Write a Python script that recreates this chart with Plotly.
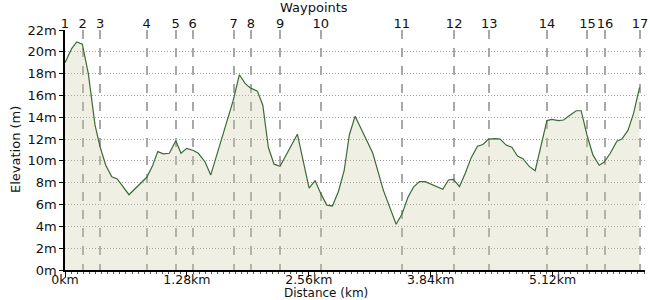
import plotly.graph_objects as go

# Elevation profile (distance km, elevation m)
distance_km = [0.000, 0.070, 0.123, 0.182, 0.245, 0.315, 0.368, 0.428, 0.491, 0.549,
               0.672, 0.788, 0.858, 0.917, 0.974, 1.033, 1.096, 1.163, 1.218, 1.278,
               1.348, 1.400, 1.471, 1.530, 1.768, 1.831, 1.891, 1.943, 2.020, 2.077,
               2.135, 2.195, 2.258, 2.440, 2.563, 2.626, 2.686, 2.749, 2.808, 2.871,
               2.931, 2.986, 3.046, 3.151, 3.232, 3.343, 3.414, 3.477, 3.537, 3.600,
               3.659, 3.722, 3.782, 3.887, 3.967, 4.026, 4.079, 4.142, 4.202, 4.265,
               4.331, 4.388, 4.447, 4.517, 4.569, 4.632, 4.692, 4.751, 4.808, 4.874,
               4.937, 5.060, 5.112, 5.182, 5.234, 5.305, 5.368, 5.420, 5.480, 5.543,
               5.609, 5.662, 5.725, 5.795, 5.847, 5.911, 5.970, 6.033]
elevation_m = [19.0, 20.3, 20.9, 20.7, 18.0, 13.3, 11.3, 9.6, 8.55, 8.35,
               6.9, 7.95, 8.5, 9.5, 10.85, 10.65, 10.7, 11.85, 10.7, 11.15,
               10.95, 10.7, 9.9, 8.7, 15.6, 17.9, 17.1, 16.7, 16.4, 15.1,
               11.25, 9.7, 9.5, 12.45, 7.5, 8.2, 7.0, 5.95, 5.87, 7.2,
               9.1, 12.4, 14.1, 12.2, 10.7, 7.3, 5.65, 4.2, 5.1, 6.65,
               7.6, 8.1, 8.1, 7.7, 7.4, 8.25, 8.3, 7.65, 8.85, 10.3,
               11.35, 11.5, 12.0, 12.05, 12.0, 11.45, 11.25, 10.45, 10.2, 9.5,
               9.1, 13.7, 13.8, 13.7, 13.75, 14.2, 14.6, 14.6, 12.4, 10.55,
               9.6, 9.9, 10.7, 11.8, 12.0, 12.8, 14.35, 16.75]

# Waypoints
waypoint_km = [0.000, 0.186, 0.368, 0.856, 1.163, 1.341, 1.772, 1.951, 2.258,
               2.686, 3.537, 4.086, 4.454, 5.060, 5.486, 5.669, 6.037]
waypoint_labels = [str(i) for i in range(1, 18)]

x_ticks = [0, 1.28, 2.56, 3.84, 5.12]
x_tick_labels = ["0km", "1.28km", "2.56km", "3.84km", "5.12km"]

X_MAX = 6.09
FONT = "DejaVu Sans"

fig = go.Figure()
fig.add_trace(go.Scatter(
    x=distance_km, y=elevation_m, mode="lines",
    line=dict(color="#3b6b35", width=1.2),
    fill="tozeroy", fillcolor="rgba(205,202,165,0.3)",
    hoverinfo="skip", showlegend=False,
))
# invisible trace to activate top axis
fig.add_trace(go.Scatter(x=waypoint_km, y=[None] * len(waypoint_km), xaxis="x2",
                         showlegend=False, hoverinfo="skip"))

fig.update_layout(
    width=650, height=300,
    margin=dict(l=65, r=5, t=30, b=30, autoexpand=False),
    paper_bgcolor="white", plot_bgcolor="white",
    font=dict(family=FONT, size=13, color="#111"),
    xaxis=dict(
        range=[0, X_MAX], tickvals=x_ticks, ticktext=x_tick_labels,
        automargin=False, tickangle=0, ticklabelstandoff=-8,
        showgrid=False, zeroline=False,
        showline=True, linecolor="black", linewidth=1.5,
        ticks="outside", ticklen=5, tickcolor="black",
        minor=dict(ticks="outside", ticklen=2, tickcolor="#555", dtick=0.064, tick0=0, showgrid=False),
        tickfont=dict(size=12.5),
    ),
    xaxis2=dict(
        overlaying="x", side="top", range=[0, X_MAX],
        automargin=False, tickangle=0, ticklabelstandoff=-2,
        tickvals=waypoint_km, ticktext=waypoint_labels,
        showgrid=True, griddash="dash", gridcolor="#a8a8a8", gridwidth=1.5,
        zeroline=False, showline=False, ticks="",
        tickfont=dict(size=13),
    ),
    yaxis=dict(
        range=[0, 22], dtick=2, tick0=0, ticksuffix="m",
        automargin=False,
        showgrid=True, griddash="1px,2px", gridcolor="#a0a0a0", gridwidth=1,
        zeroline=False, showline=True, linecolor="black", linewidth=1.5,
        ticks="outside", ticklen=4, tickcolor="black",
        tickfont=dict(size=13),
    ),
    annotations=[
        dict(text="Distance (km)", xref="paper", yref="paper", x=0.45, y=-0.09375,
             showarrow=False, xanchor="center", yanchor="middle", font=dict(size=12)),
        dict(text="Waypoints", xref="paper", yref="paper", x=0.429, y=1.0917,
             showarrow=False, xanchor="center", yanchor="middle", font=dict(size=13)),
        dict(text="Elevation (m)", xref="paper", yref="paper", x=-0.0862, y=0.5,
             showarrow=False, xanchor="center", yanchor="middle", textangle=-90,
             font=dict(size=13)),
    ],
)

fig.write_html("out.html")
